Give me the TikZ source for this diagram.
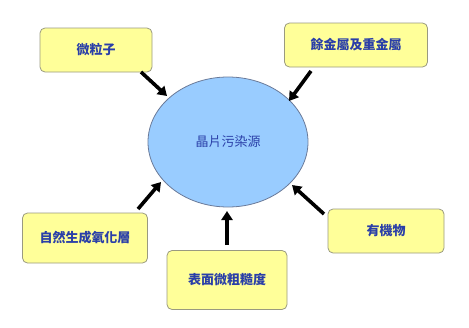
\documentclass[tikz,border=0pt]{standalone}
\usepackage{fontspec}
\newfontfamily\cjk{Noto Sans CJK TC}
\usetikzlibrary{arrows.meta,shapes.geometric}
\definecolor{boxfill}{HTML}{FFFF99}
\definecolor{boxline}{HTML}{9A9A80}
\definecolor{ellfill}{HTML}{99CCFF}
\definecolor{ellline}{HTML}{6A7A99}
\definecolor{txtblue}{HTML}{2A3FA8}
\begin{document}
\begin{tikzpicture}[x=1pt,y=-1pt,
  srcbox/.style={draw=boxline,line width=0.8pt,fill=boxfill,rounded corners=5pt,inner sep=0pt,
    font=\cjk\bfseries\fontsize{13}{15}\selectfont,text=txtblue},
  bigarrow/.style={line width=3.6pt,-{Triangle[length=9pt,width=11pt]}}]
\useasboundingbox (0,0) rectangle (469,327);
\node[draw=ellline,line width=0.8pt,fill=ellfill,ellipse,minimum width=160pt,minimum height=130pt,
  inner sep=0pt,font=\cjk\fontsize{13}{15}\selectfont,text=txtblue] (src) at (228,142) {晶片污染源};
\node[srcbox,minimum width=112pt,minimum height=44pt] (a) at (96,50) {微粒子};
\node[srcbox,minimum width=143pt,minimum height=44pt] (b) at (356,45) {餘金屬及重金屬};
\node[srcbox,minimum width=125pt,minimum height=50pt] (c) at (85,238) {自然生成氧化層};
\node[srcbox,minimum width=120pt,minimum height=59pt] (d) at (227,280) {表面微粗糙度};
\node[srcbox,minimum width=116pt,minimum height=44pt] (e) at (386,231) {有機物};
\coordinate (a1) at (141,72); \coordinate (a2) at (167,96);
\coordinate (b1) at (311,71); \coordinate (b2) at (289,101);
\coordinate (c1) at (138,209); \coordinate (c2) at (161,182);
\coordinate (d1) at (227,245); \coordinate (d2) at (227,211);
\coordinate (e1) at (324,214); \coordinate (e2) at (292,185);
\draw[bigarrow] (a1) -- (a2);
\draw[bigarrow] (b1) -- (b2);
\draw[bigarrow] (c1) -- (c2);
\draw[bigarrow] (d1) -- (d2);
\draw[bigarrow] (e1) -- (e2);
\end{tikzpicture}
\end{document}
